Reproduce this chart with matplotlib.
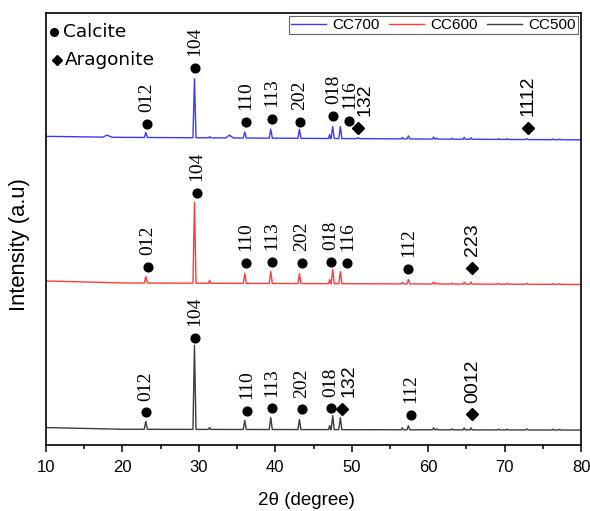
import numpy as np
import matplotlib.pyplot as plt

plt.rcParams['font.family'] = ['Liberation Sans', 'DejaVu Sans']

# --- baselines (2theta, intensity) ---
base700_x = [10, 20, 80]
base700_y = [308.5, 307.5, 305]
base600_x = [10, 20, 80]
base600_y = [164, 162, 160.5]
base500_x = [10, 20, 80]
base500_y = [17.5, 15.8, 15]

# --- peaks: position, height above baseline, half width at base ---
pk700_pos = [18.0, 23.05, 29.42, 31.4, 34.0, 36.0, 39.4, 43.15, 47.1, 47.5, 48.5, 50.8,
             56.6, 57.4, 60.7, 61.1, 63.1, 64.7, 65.6, 69.2, 70.3, 72.9, 76.3, 77.2]
pk700_h = [2, 5, 59, 1.2, 2.8, 6, 9, 9, 4, 12, 12, 1,
           1.5, 3, 2, 1, 1, 2, 1.5, 0.8, 0.8, 1, 0.8, 0.8]
pk700_w = [0.6, 0.2, 0.2, 0.14, 0.5, 0.2, 0.2, 0.2, 0.14, 0.2, 0.2, 0.18,
           0.14, 0.18, 0.16, 0.14, 0.14, 0.14, 0.14, 0.14, 0.14, 0.18, 0.14, 0.14]

pk600_pos = [23.05, 29.42, 31.4, 36.0, 39.4, 43.15, 47.1, 47.5, 48.5, 56.6, 57.4,
             60.7, 61.1, 63.1, 64.7, 65.6, 69.2, 70.3, 72.9, 76.3, 77.2]
pk600_h = [6.5, 81, 3, 10, 12, 10, 4, 14, 12, 1.5, 4.5,
           2, 1, 1, 2, 2, 0.8, 0.8, 1, 0.8, 0.8]
pk600_w = [0.2, 0.2, 0.14, 0.2, 0.2, 0.2, 0.14, 0.2, 0.2, 0.14, 0.18,
           0.16, 0.14, 0.14, 0.14, 0.14, 0.14, 0.14, 0.18, 0.14, 0.14]

pk500_pos = [23.05, 29.42, 31.4, 36.0, 39.4, 43.15, 47.1, 47.5, 48.5, 56.6, 57.4,
             60.7, 61.1, 63.1, 64.7, 65.6, 69.2, 70.3, 72.9, 76.3, 77.2]
pk500_h = [8, 84, 2, 9, 12, 10, 4, 14, 12, 2, 4,
           2, 1, 1, 2, 2, 0.8, 0.8, 1, 0.8, 0.8]
pk500_w = pk600_w

# --- phase annotations: position, marker height, label, phase ---
ann700_x = [23.18, 29.50, 36.13, 39.53, 43.23, 47.59, 49.68, 50.86, 73.02]
ann700_y = [321, 377.3, 322.7, 325.7, 322.7, 329.3, 324.3, 317.3, 317.3]
ann700_t = ['012', '104', '110', '113', '202', '018', '116', '132', '1112']
ann700_k = ['c', 'c', 'c', 'c', 'c', 'c', 'c', 'a', 'a']

ann600_x = [23.31, 29.72, 36.13, 39.53, 43.46, 47.29, 49.42, 57.40, 65.78]
ann600_y = [177.7, 251.7, 181.7, 183.3, 181.7, 183.3, 181.7, 175.7, 176.7]
ann600_t = ['012', '104', '110', '113', '202', '018', '116', '112', '223']
ann600_k = ['c', 'c', 'c', 'c', 'c', 'c', 'c', 'c', 'a']

ann500_x = [23.04, 29.50, 36.26, 39.53, 43.46, 47.29, 48.69, 57.72, 65.78]
ann500_y = [32.7, 106.7, 34.3, 36.7, 35.7, 36.7, 36.0, 30.0, 30.7]
ann500_t = ['012', '104', '110', '113', '202', '018', '132', '112', '0012']
ann500_k = ['c', 'c', 'c', 'c', 'c', 'c', 'a', 'c', 'a']


def pattern(bx, by, pos, h, w):
    # baseline anchors plus a foot-top-foot triangle for every peak
    xs = list(bx)
    ys = list(by)
    for p, hh, ww in zip(pos, h, w):
        for xx, dy in ((p - ww, 0), (p, hh), (p + ww, 0)):
            xs.append(xx)
            ys.append(np.interp(xx, bx, by) + dy)
    order = np.argsort(xs)
    return np.array(xs)[order], np.array(ys)[order]


fig = plt.figure(figsize=(5.9, 5.11), dpi=100)
ax = fig.add_axes([0.078, 0.129, 0.907, 0.846])

series = [
    ('CC700', '#3a3aff', base700_x, base700_y, pk700_pos, pk700_h, pk700_w),
    ('CC600', '#ff3b3b', base600_x, base600_y, pk600_pos, pk600_h, pk600_w),
    ('CC500', '#3c3c3c', base500_x, base500_y, pk500_pos, pk500_h, pk500_w),
]
for name, col, bx, by, pos, h, w in series:
    x, y = pattern(bx, by, pos, h, w)
    ax.plot(x, y, color=col, lw=1.0, label=name)

text_shift = {'132': 5}
for xs, ys, ts, ks in [(ann700_x, ann700_y, ann700_t, ann700_k),
                       (ann600_x, ann600_y, ann600_t, ann600_k),
                       (ann500_x, ann500_y, ann500_t, ann500_k)]:
    for xx, yy, tt, kk in zip(xs, ys, ts, ks):
        if kk == 'c':
            ax.plot(xx, yy, 'o', color='black', ms=6.3)
            fam = 'Liberation Serif'
        else:
            ax.plot(xx, yy, 'D', color='black', ms=5.8)
            fam = 'Liberation Sans'
        ax.annotate(tt, (xx, yy), xytext=(text_shift.get(tt, 0), 8.5),
                    textcoords='offset points', rotation=90,
                    ha='center', va='bottom', fontsize=14, family=fam)

# phase key
ax.plot(0.015, 0.956, 'o', color='black', ms=5.5, transform=ax.transAxes)
ax.text(0.031, 0.956, 'Calcite', transform=ax.transAxes, fontsize=13.3,
        va='center', family='DejaVu Sans')
ax.plot(0.0206, 0.891, 'D', color='black', ms=5, transform=ax.transAxes)
ax.text(0.0355, 0.891, 'Aragonite', transform=ax.transAxes, fontsize=13.3,
        va='center', family='DejaVu Sans')

leg = ax.legend(loc='upper right', ncol=3, fontsize=11, frameon=True, fancybox=False,
                handlelength=2.3, handletextpad=0.4, columnspacing=0.6,
                borderpad=0.15, borderaxespad=0.2)
leg.get_frame().set_edgecolor('#444444')
leg.get_frame().set_linewidth(0.8)

ax.set_xlim(10, 80)
ax.set_ylim(0, 432)
ax.set_xticks(np.arange(10, 81, 10))
ax.set_xticks(np.arange(15, 80, 10), minor=True)
ax.set_yticks([])
ax.tick_params(axis='x', which='major', direction='out', length=4.8, width=1.1,
               labelsize=12, pad=6)
ax.tick_params(axis='x', which='minor', direction='out', length=3, width=1.1)
for s in ax.spines.values():
    s.set_linewidth(1.2)

ax.set_xlabel('2θ (degree)', fontsize=13.5)
ax.xaxis.set_label_coords(0.486, -0.109)
ax.xaxis.label.set_va('top')
ax.set_ylabel('Intensity (a.u)', fontsize=15.8)
ax.yaxis.set_label_coords(-0.03, 0.463)

fig.savefig('out.png', dpi=100)
